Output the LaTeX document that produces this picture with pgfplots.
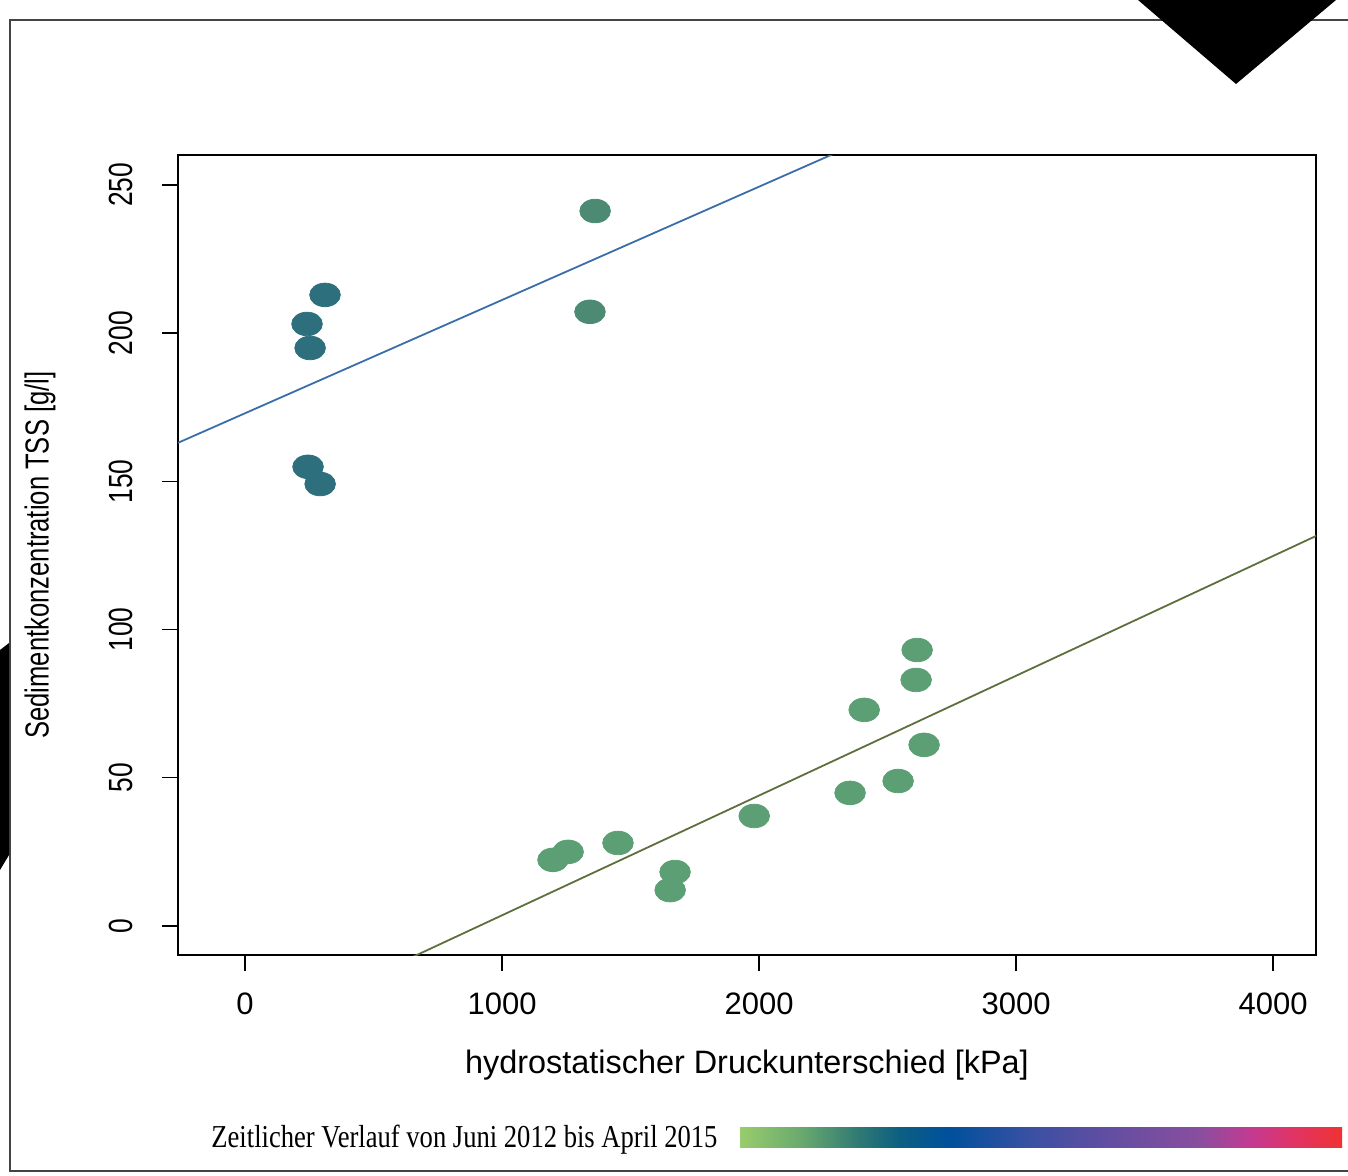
\documentclass[border=0pt]{standalone}
\usepackage{fontspec}
\setmainfont{Liberation Sans}
\newfontfamily\capfont{Liberation Serif}
\usepackage{graphicx}
\usepackage{pgfplots}
\pgfplotsset{compat=1.18}

\definecolor{ptA}{HTML}{2E6F7D}
\definecolor{ptB}{HTML}{4D8A73}
\definecolor{ptC}{HTML}{5C9F75}
\definecolor{lnBlue}{HTML}{3A6EA8}
\definecolor{lnOlive}{HTML}{5E6F3E}
\definecolor{frm}{HTML}{444444}

% colour bar: light green -> teal -> blue -> purple -> magenta -> red
\definecolor{cb1}{HTML}{98CC6C}
\definecolor{cb2}{HTML}{6AAA6E}
\definecolor{cb3}{HTML}{2E7874}
\definecolor{cb4}{HTML}{0C5F82}
\definecolor{cb5}{HTML}{00509C}
\definecolor{cb6}{HTML}{3A50A2}
\definecolor{cb7}{HTML}{5E4EA2}
\definecolor{cb8}{HTML}{8A4E9E}
\definecolor{cb9}{HTML}{C43A92}
\definecolor{cb10}{HTML}{E03468}
\definecolor{cb11}{HTML}{F03232}
\pgfdeclarehorizontalshading{timebar}{100bp}{color(0bp)=(cb1); color(25bp)=(cb1);
  color(30bp)=(cb2); color(35bp)=(cb3); color(38.3bp)=(cb4); color(42.4bp)=(cb5);
  color(49.1bp)=(cb6); color(54.9bp)=(cb7); color(63.2bp)=(cb8); color(67.4bp)=(cb9);
  color(70.7bp)=(cb10); color(75bp)=(cb11); color(100bp)=(cb11)}

\pgfplotstableread{
x y
311 212.9
241 203.1
253 195.0
245 154.9
292 149.1
}\early
\pgfplotstableread{
x y
1362 241.2
1342 207.2
}\middle
\pgfplotstableread{
x y
2615 93.1
2611 83.0
2409 72.9
2642 61.1
2541 48.9
2354 44.9
1981 37.1
1451 28.0
1673 18.2
1654 12.1
1257 25.0
1198 22.3
}\late

\begin{document}
\begin{tikzpicture}
% page in pixel units (0.5pt per px, y downwards)
\begin{scope}[x=0.5pt,y=-0.5pt]
  \useasboundingbox (0,0) rectangle (1348,1176);
  \draw[frm,line width=0.6pt] (1348,20) -- (10,20) -- (10,1171) -- (1348,1171);
  \fill[black] (1138,0) -- (1336,0) -- (1236,84) -- cycle;
  \fill[black] (0,650) -- (9,643) -- (9,855) -- (0,870) -- cycle;
  \shade[shading=timebar] (740,1127) rectangle (1342,1147);
  \node[anchor=base west,inner sep=0pt] at (211,1147)
    {\capfont\fontsize{13.3pt}{14pt}\selectfont\scalebox{1}[1.2]{Zeitlicher Verlauf von Juni 2012 bis April 2015}};
\end{scope}

\begin{axis}[
    at={(89pt,-477.5pt)}, anchor=south west,
    scale only axis,
    width=569pt, height=400pt,
    xmin=-261, xmax=4167,
    ymin=-9.8, ymax=260.1,
    xtick={0,1000,2000,3000,4000},
    ytick={0,50,100,150,200,250},
    scaled ticks=false,
    /pgf/number format/1000 sep={},
    /pgf/number format/assume math mode=true,
    tick align=outside,
    xtick pos=bottom, ytick pos=left,
    major tick length=8pt,
    tick style={black,line width=0.7pt},
    axis line style={black,line width=1pt},
    xticklabel style={font=\fontsize{15.5pt}{17pt}\selectfont},
    xticklabel shift=7.5pt,
    yticklabel={\scalebox{1}[1.27]{\pgfmathprintnumber{\tick}}},
    yticklabel style={rotate=90,font=\fontsize{13.2pt}{15pt}\selectfont},
    yticklabel shift=11pt,
    xlabel={hydrostatischer Druckunterschied [kPa]},
    xlabel style={font=\fontsize{16.2pt}{18pt}\selectfont,at={(axis description cs:0.5,-0.1375)},anchor=center},
    ylabel={\scalebox{1}[1.3]{Sedimentkonzentration TSS [g/l]}},
    ylabel style={font=\fontsize{12.8pt}{15pt}\selectfont,at={(axis description cs:-0.1213,0.5)},anchor=center},
    clip=true,
]
\addplot[only marks,mark=*,mark size=5.9pt,color=ptA,
  mark options={xscale=1.3,draw=ptA,fill=ptA}] table[x=x,y=y] {\early};
\addplot[only marks,mark=*,mark size=5.9pt,color=ptB,
  mark options={xscale=1.3,draw=ptB,fill=ptB}] table[x=x,y=y] {\middle};
\addplot[only marks,mark=*,mark size=5.9pt,color=ptC,
  mark options={xscale=1.3,draw=ptC,fill=ptC}] table[x=x,y=y] {\late};
% fitted lines
\addplot[lnBlue,line width=0.9pt] coordinates {(-261,163.0) (2400,264.7)};
\addplot[lnOlive,line width=0.9pt] coordinates {(600,-12.56) (4200,132.9)};
\end{axis}
\end{tikzpicture}
\end{document}
